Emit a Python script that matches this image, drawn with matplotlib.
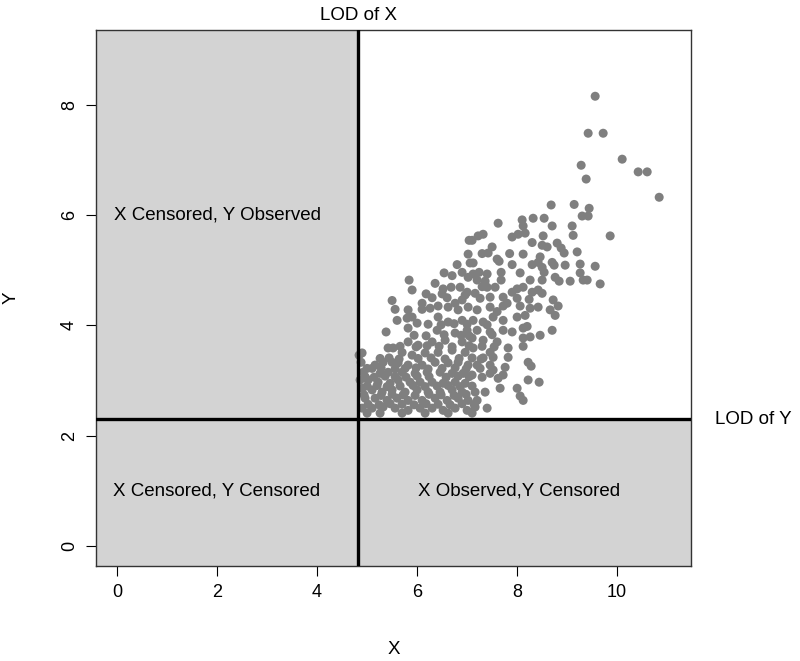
import matplotlib
matplotlib.use("Agg")
import matplotlib.pyplot as plt
from matplotlib.patches import Rectangle

plt.rcParams['font.family'] = ['Liberation Sans', 'DejaVu Sans']

# limits of detection
lod_x = 4.82
lod_y = 2.30

# observed points
xs = [
    9.56, 9.42, 9.72, 10.10, 10.42, 10.60, 10.84, 9.38, 9.28, 9.44, 9.42, 9.86, 9.56, 9.40, 9.66,
    8.68, 9.14, 7.62, 8.10, 8.32, 8.54, 8.12, 8.70, 9.10, 9.30, 8.02, 8.16, 8.52, 9.12, 7.32, 7.22,
    7.10, 8.50, 8.60, 8.80, 8.88, 8.94, 9.20, 7.50, 7.42, 8.12, 8.46, 8.42, 7.64, 8.70, 8.74, 8.96,
    9.26, 8.50, 7.12, 7.12, 7.24, 7.40, 7.68, 8.06, 8.54, 8.76, 9.26, 9.32, 8.84, 9.06, 8.50, 8.26,
    7.68, 7.36, 7.20, 7.40, 7.56, 8.00, 8.12, 8.42, 8.50, 8.24, 8.00, 7.72, 7.46, 7.26, 7.16, 8.06,
    8.42, 8.66, 8.82, 8.72, 8.26, 7.72, 7.46, 7.20,
    7.04, 7.02, 7.06, 6.54, 6.90, 7.02, 5.84, 6.36, 5.90, 6.52, 6.68, 6.86, 6.18, 6.50, 6.96, 6.90,
    6.76, 6.42, 5.56, 5.82, 6.10, 6.26, 6.62, 6.82, 7.02,
    5.60, 5.80, 5.82, 6.00, 5.38, 6.42, 6.62, 6.90, 6.40, 6.76, 7.00, 5.82, 6.02, 6.30, 6.56, 6.90,
    5.42, 5.52, 4.90, 5.70, 5.90, 6.16, 6.42, 6.70, 6.96, 5.16, 5.32, 5.50, 5.62, 5.82, 6.10, 6.36,
    6.62, 6.82, 7.02, 4.92, 5.10, 5.26, 5.42, 5.70, 5.96, 6.20, 6.46, 6.70, 6.92, 5.02, 5.22, 5.46,
    5.62, 5.86, 6.06, 6.30, 6.52, 6.76, 6.96, 4.90, 5.10, 5.30, 5.50, 5.76, 6.00, 6.22, 6.46, 6.70,
    6.90, 4.96, 5.16, 5.40, 5.60, 5.82, 6.10, 6.36, 6.60, 6.82, 7.02, 4.90, 5.10, 5.32, 5.56, 5.82,
    6.06, 6.30, 6.52, 6.76, 7.00, 5.00, 5.26, 5.70, 6.16, 6.62, 4.88, 4.86, 4.84,
    7.12, 7.32, 7.52, 7.72, 8.00, 8.16, 8.76, 7.20, 7.46, 7.72, 7.90, 8.12, 8.20, 8.70, 8.12, 8.26,
    8.46, 7.10, 7.32, 7.60, 7.12, 8.12, 7.82, 7.46, 7.52, 7.82, 7.32, 7.20, 7.46, 7.52, 7.76, 8.22,
    8.28, 7.46, 7.72, 7.10, 7.62, 8.22, 8.44, 7.66, 8.00, 7.36, 7.16, 8.06, 8.12, 7.20, 7.16, 7.40,
    7.10,
]
ys = [
    8.15, 7.48, 7.48, 7.01, 6.78, 6.78, 6.32, 6.65, 6.90, 6.12, 5.98, 5.62, 5.07, 4.82, 4.75,
    6.18, 6.19, 5.85, 5.91, 5.94, 5.94, 5.80, 5.80, 5.80, 5.98, 5.65, 5.67, 5.62, 5.63, 5.65, 5.62,
    5.54, 5.45, 5.42, 5.49, 5.40, 5.31, 5.33, 5.42, 5.31, 5.29, 5.24, 5.14, 5.16, 5.14, 5.09, 5.09,
    5.11, 5.05, 5.13, 4.93, 4.96, 4.93, 4.96, 4.95, 4.96, 4.87, 4.95, 4.82, 4.80, 4.80, 4.82, 4.82,
    4.82, 4.80, 4.82, 4.69, 4.69, 4.66, 4.69, 4.64, 4.58, 4.47, 4.49, 4.51, 4.51, 4.49, 4.58, 4.35,
    4.33, 4.28, 4.35, 4.46, 4.31, 4.35, 4.33, 4.28,
    5.54, 5.29, 5.13, 4.95, 4.96, 4.87, 4.82, 4.76, 4.64, 4.66, 4.69, 4.69, 4.57, 4.57, 4.55, 4.46,
    4.40, 4.35, 4.29, 4.28, 4.29, 4.31, 4.33, 4.28, 4.33,
    4.09, 4.13, 3.95, 4.04, 3.88, 4.15, 4.06, 4.09, 3.91, 3.86, 3.91, 3.70, 3.64, 3.70, 3.73, 3.70,
    3.59, 3.59, 3.50, 3.51, 3.46, 3.50, 3.51, 3.55, 3.51, 3.28, 3.33, 3.33, 3.32, 3.28, 3.28, 3.33,
    3.32, 3.33, 3.28, 3.15, 3.22, 3.13, 3.15, 3.15, 3.13, 3.15, 3.15, 3.13, 3.13, 3.01, 2.97, 2.95,
    3.01, 2.97, 2.97, 2.97, 2.95, 2.97, 2.95, 2.86, 2.83, 2.79, 2.83, 2.79, 2.83, 2.79, 2.79, 2.83,
    2.79, 2.68, 2.68, 2.64, 2.68, 2.64, 2.64, 2.68, 2.64, 2.68, 2.64, 2.50, 2.50, 2.52, 2.50, 2.46,
    2.50, 2.50, 2.46, 2.50, 2.46, 2.41, 2.41, 2.41, 2.41, 2.41, 3.33, 3.01, 3.46,
    4.09, 4.06, 4.15, 4.09, 4.15, 4.18, 4.18, 3.91, 3.88, 3.91, 3.88, 3.95, 3.98, 3.91, 3.77, 3.79,
    3.82, 3.77, 3.73, 3.70, 3.59, 3.62, 3.59, 3.51, 3.42, 3.42, 3.41, 3.28, 3.28, 3.19, 3.24, 3.33,
    3.26, 3.13, 3.10, 3.10, 3.04, 3.01, 2.97, 2.86, 2.86, 2.79, 2.79, 2.72, 2.64, 2.64, 2.52, 2.50,
    2.41,
]

# extra points filling the dense core of the cloud
xs_core = [
    5.02, 5.24, 5.46, 5.70, 5.94, 6.18, 6.42, 6.66, 6.90, 7.14,
    4.94, 5.28, 5.50, 5.72, 5.96, 6.24, 6.48, 6.74, 6.98,
    5.00, 5.20, 5.40, 5.66, 5.92, 6.16, 6.40, 6.62, 6.86, 7.10,
    4.96, 5.14, 5.36, 5.56, 5.78, 6.00, 6.24, 6.58, 6.82, 7.04, 7.30,
    5.00, 5.28, 5.56, 5.76, 5.98, 6.22, 6.50, 6.76, 6.98, 7.26,
    5.26, 5.44, 5.64, 6.02, 6.28, 6.56, 6.84, 7.10, 7.28,
    5.66, 5.98, 6.20, 6.44, 6.70, 7.04, 7.30, 7.54,
    5.94, 6.18, 6.54, 6.88, 7.04, 7.50,
    6.22, 6.48, 6.74, 7.00, 7.40,
    7.80, 7.90, 7.60, 8.30, 7.30, 6.70, 7.90, 7.85, 7.90, 7.60,
    7.30, 6.80, 8.30, 8.30, 7.00, 6.60, 6.30, 6.10, 5.90, 5.50,
]
ys_core = [
    2.57, 2.56, 2.58, 2.57, 2.56, 2.58, 2.57, 2.56, 2.58, 2.57,
    2.74, 2.73, 2.75, 2.74, 2.73, 2.75, 2.74, 2.73, 2.75,
    2.90, 2.91, 2.89, 2.90, 2.91, 2.89, 2.90, 2.91, 2.89, 2.90,
    3.07, 3.06, 3.08, 3.07, 3.06, 3.08, 3.07, 3.06, 3.08, 3.07, 3.06,
    3.22, 3.23, 3.21, 3.22, 3.23, 3.21, 3.22, 3.23, 3.21, 3.22,
    3.40, 3.41, 3.39, 3.40, 3.41, 3.39, 3.40, 3.41, 3.39,
    3.62, 3.61, 3.63, 3.62, 3.61, 3.63, 3.62, 3.61,
    3.82, 3.81, 3.83, 3.82, 3.81, 3.83,
    4.02, 4.01, 4.03, 4.02, 4.01,
    4.40, 4.60, 4.25, 4.60, 4.70, 4.90, 5.10, 5.30, 5.60, 5.20,
    5.30, 5.10, 5.10, 5.50, 4.60, 4.50, 4.50, 4.40, 4.15, 4.45,
]

region_labels = ["X Censored, Y Observed", "X Censored, Y Censored", "X Observed,Y Censored"]
region_pos = [(2.0, 6.0), (2.0, 1.0), (8.04, 1.0)]

fig = plt.figure(figsize=(8, 6.61), dpi=100)
ax = fig.add_axes([0.12, 0.1437, 0.744, 0.8109])
xmin, xmax = -0.42, 11.48
ymin, ymax = -0.36, 9.35
ax.set_xlim(xmin, xmax)
ax.set_ylim(ymin, ymax)

# censored regions
ax.add_patch(Rectangle((xmin, ymin), lod_x - xmin, ymax - ymin, facecolor='#d3d3d3',
                       edgecolor='none', zorder=0))
ax.add_patch(Rectangle((lod_x, ymin), xmax - lod_x, lod_y - ymin, facecolor='#d3d3d3',
                       edgecolor='none', zorder=0))

ax.scatter(xs + xs_core, ys + ys_core, s=42, color='#7f7f7f', edgecolors='none', zorder=2)

ax.axvline(lod_x, color='black', lw=2.4, zorder=3)
ax.axhline(lod_y, color='black', lw=2.4, zorder=3)

for lab, (tx, ty) in zip(region_labels, region_pos):
    ax.text(tx, ty, lab, ha='center', va='center', fontsize=13.5)

ax.text(lod_x, 1.012, "LOD of X", transform=ax.get_xaxis_transform(), ha='center', va='bottom', fontsize=13.5)
ax.text(1.04, lod_y, "LOD of Y", transform=ax.get_yaxis_transform(), ha='left', va='center', fontsize=13.5)

ax.set_xticks([0, 2, 4, 6, 8, 10])
ax.set_yticks([0, 2, 4, 6, 8])
ax.tick_params(axis='both', direction='out', length=7, width=0.8, labelsize=13, pad=6)
plt.setp(ax.get_yticklabels(), rotation=90, va='center')
for sp in ax.spines.values():
    sp.set_color('#333333')
    sp.set_linewidth(1.0)

ax.set_xlabel("X", fontsize=13.5, labelpad=29)
ax.set_ylabel("Y", fontsize=13.5, labelpad=30)

fig.savefig("out.png", dpi=100)
